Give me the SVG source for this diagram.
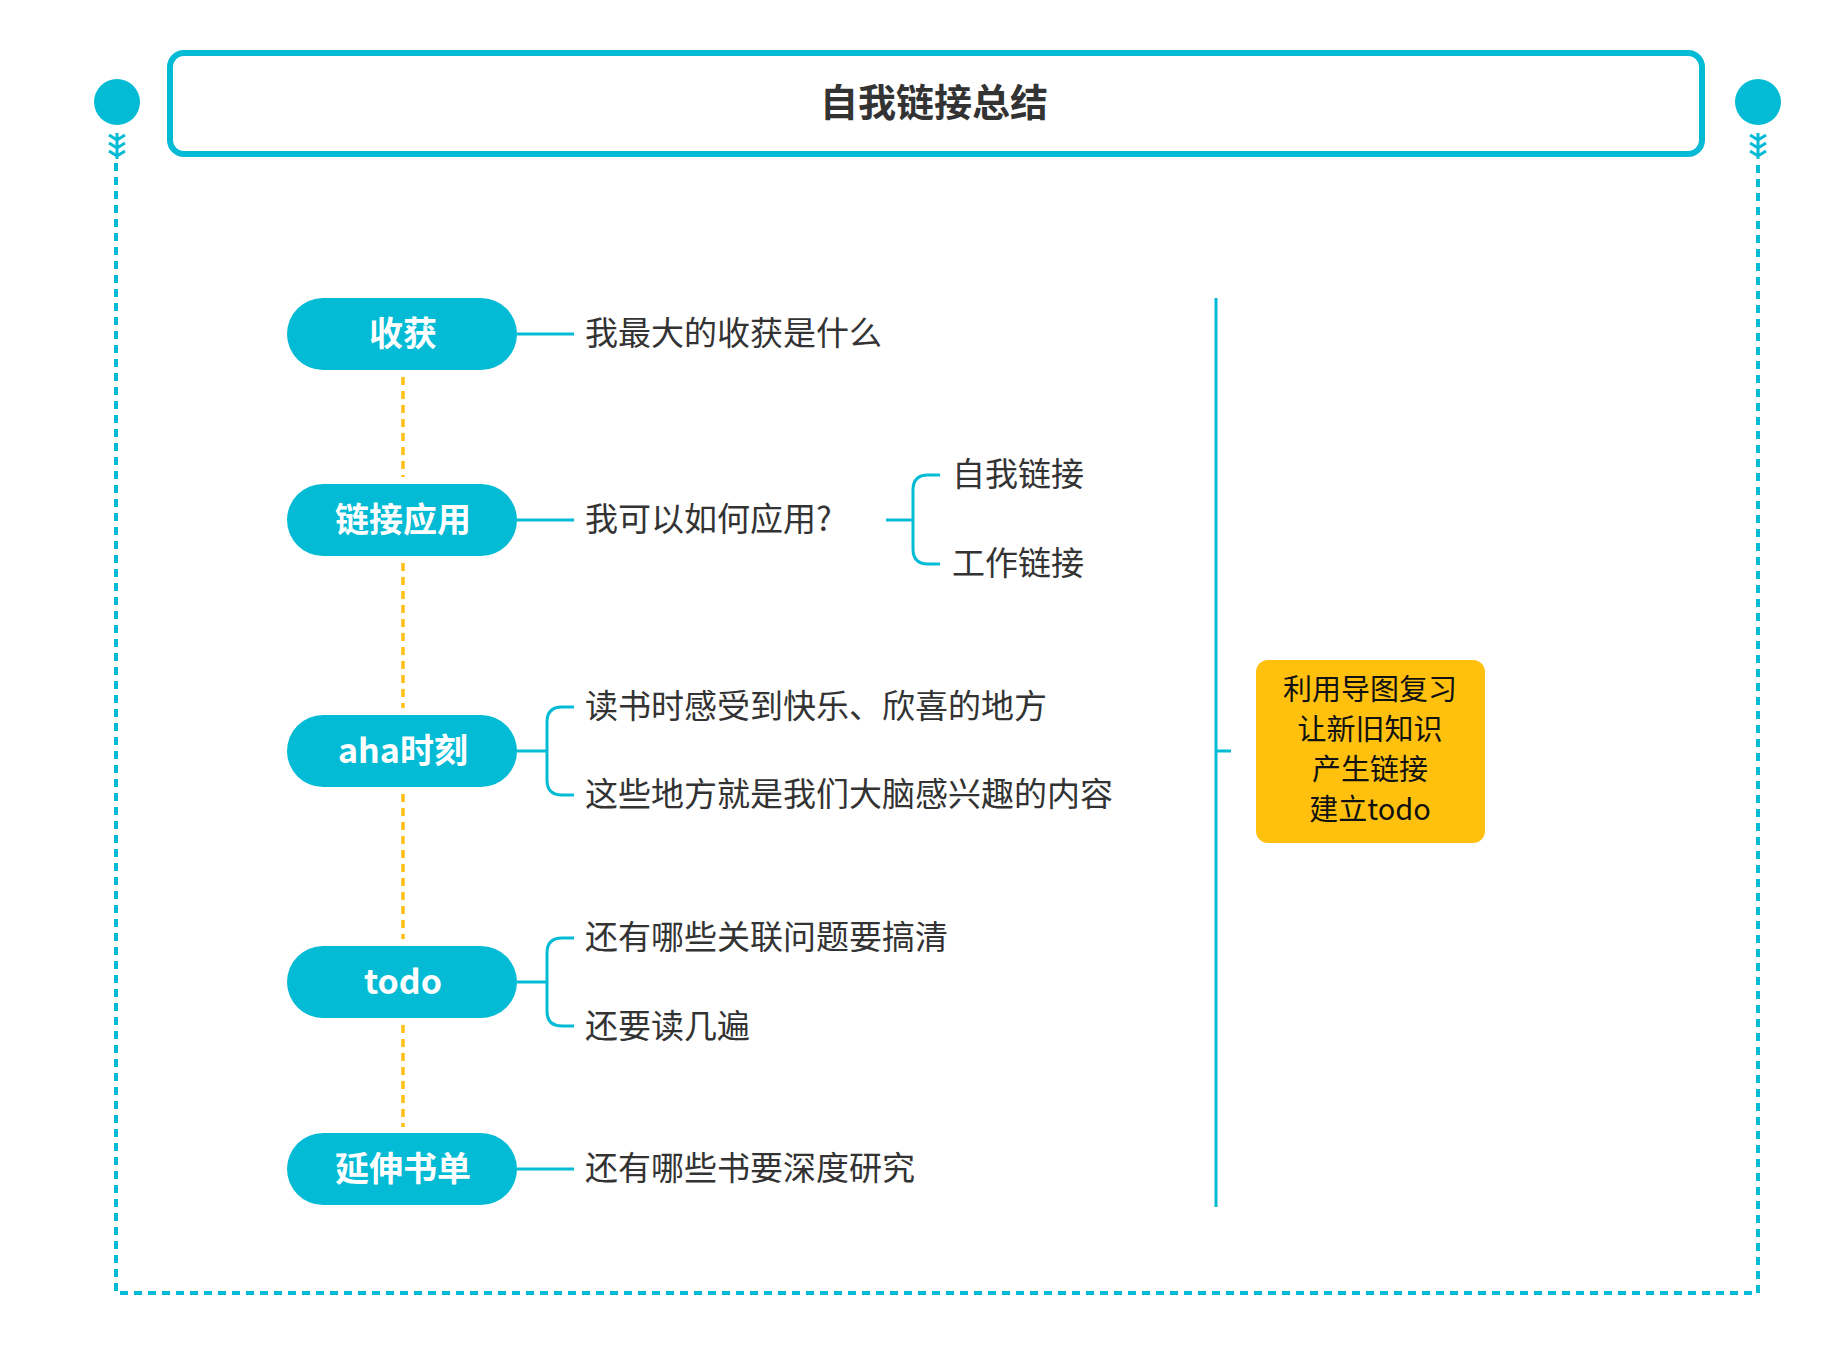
<svg xmlns="http://www.w3.org/2000/svg" width="1822" height="1354" viewBox="0 0 1822 1354">
<style>
.pill{fill:#03BBD4}
.pt{font-family:"Noto Sans CJK SC",sans-serif;font-weight:bold;font-size:34px;fill:#fff;text-anchor:middle}
.t{font-family:"Noto Sans CJK SC",sans-serif;font-size:33px;fill:#333}
.ln{stroke:#03BBD4;stroke-width:3;fill:none}
.dash{stroke:#03BBD4;stroke-width:4;fill:none;stroke-dasharray:8 6}
.od{stroke:#FFBF12;stroke-width:3.5;fill:none;stroke-dasharray:8 6}
</style>
<rect width="1822" height="1354" fill="#fff"/>
<g id="frame">
<circle cx="117" cy="102" r="23" fill="#03BBD4"/>
<circle cx="1758" cy="102" r="23" fill="#03BBD4"/>
<path class="ln" d="M109 135l8 5 8-5M109 143l8 5 8-5M109 151l8 5 8-5M117 133v26"/>
<path class="ln" d="M1750 135l8 5 8-5M1750 143l8 5 8-5M1750 151l8 5 8-5M1758 133v26"/>
<path class="dash" d="M116 163V1293H1758V163"/>
</g>
<g id="title">
<rect x="170" y="53" width="1532" height="101" rx="14" fill="#fff" stroke="#03BBD4" stroke-width="6"/>
<text x="934" y="116" font-family="Noto Sans CJK SC,sans-serif" font-weight="bold" font-size="38" fill="#333" text-anchor="middle">自我链接总结</text>
</g>
<g id="connectors">
<path class="od" d="M403 377V477M403 563V708M403 794V939M403 1025V1127"/>
<path class="ln" d="M517 334H574M517 520H574M517 751H547M517 982H547M517 1169H574"/>
<path class="ln" d="M574 707h-12q-15 0-15 15v58q0 15 15 15h12M574 938h-12q-15 0-15 15v58q0 15 15 15h12"/>
<path class="ln" d="M886 520h26M940 475h-12q-15 0-15 15v59q0 15 15 15h12"/>
<path class="ln" d="M1216 298V1207M1216 751h15"/>
</g>
<g id="n1"><rect class="pill" x="287" y="298" width="230" height="72" rx="36"/><text class="pt" x="403" y="346">收获</text></g>
<g id="n2"><rect class="pill" x="287" y="484" width="230" height="72" rx="36"/><text class="pt" x="403" y="532">链接应用</text></g>
<g id="n3"><rect class="pill" x="287" y="715" width="230" height="72" rx="36"/><text class="pt" x="403" y="763">aha时刻</text></g>
<g id="n4"><rect class="pill" x="287" y="946" width="230" height="72" rx="36"/><text class="pt" x="403" y="994">todo</text></g>
<g id="n5"><rect class="pill" x="287" y="1133" width="230" height="72" rx="36"/><text class="pt" x="403" y="1181">延伸书单</text></g>
<g id="texts">
<text class="t" x="585" y="345">我最大的收获是什么</text>
<text class="t" x="585" y="531">我可以如何应用?</text>
<text class="t" x="952" y="486">自我链接</text>
<text class="t" x="952" y="575">工作链接</text>
<text class="t" x="585" y="718">读书时感受到快乐、欣喜的地方</text>
<text class="t" x="585" y="806">这些地方就是我们大脑感兴趣的内容</text>
<text class="t" x="585" y="949">还有哪些关联问题要搞清</text>
<text class="t" x="585" y="1038">还要读几遍</text>
<text class="t" x="585" y="1180">还有哪些书要深度研究</text>
</g>
<g id="note">
<rect x="1256" y="660" width="229" height="183" rx="12" fill="#FFC10E"/>
<g font-family="Noto Sans CJK SC,sans-serif" font-size="29" fill="#111" text-anchor="middle">
<text x="1370" y="700">利用导图复习</text>
<text x="1370" y="740">让新旧知识</text>
<text x="1370" y="780">产生链接</text>
<text x="1370" y="820">建立todo</text>
</g>
</g>
</svg>
